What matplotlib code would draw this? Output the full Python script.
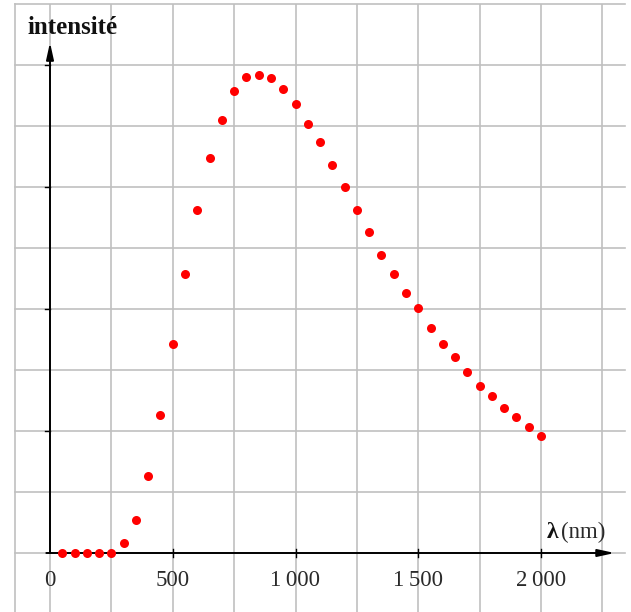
import matplotlib
matplotlib.use("Agg")
import matplotlib.pyplot as plt

# ---- data ----
wavelength_nm = [50, 100, 150, 200, 250, 300, 350, 400, 450, 500,
                 550, 600, 650, 700, 750, 800, 850, 900, 950, 1000,
                 1050, 1100, 1150, 1200, 1250, 1300, 1350, 1400, 1450, 1500,
                 1550, 1600, 1650, 1700, 1750, 1800, 1850, 1900, 1950, 2000]
intensity = [0, 0, 0, 0, 0, 0.17, 0.545, 1.27, 2.26, 3.42,
             4.57, 5.62, 6.47, 7.10, 7.57, 7.80, 7.84, 7.79, 7.61, 7.36,
             7.04, 6.73, 6.36, 6.0, 5.63, 5.27, 4.89, 4.58, 4.27, 4.01,
             3.69, 3.43, 3.22, 2.97, 2.74, 2.58, 2.38, 2.23, 2.06, 1.91]
x_tick_values = [0, 500, 1000, 1500, 2000]
x_tick_labels = ["0", "500", "1\u2009000", "1\u2009500", "2\u2009000"]
y_tick_values = [2, 4, 6, 8]

W, H = 631, 612
fig = plt.figure(figsize=(W / 100, H / 100), dpi=100)
left_px, right_px, top_px, bottom_px = 15, 625, 4, 612
ax = fig.add_axes([left_px / W, 0, (right_px - left_px) / W, (bottom_px - top_px) / H])
x0_px, px_per_nm = 50, 0.2455
y0_px, px_per_unit = 553, 61.0
xlim = ((left_px - x0_px) / px_per_nm, (right_px - x0_px) / px_per_nm)
ylim = ((y0_px - bottom_px) / px_per_unit, (y0_px - top_px) / px_per_unit)
ax.set_xlim(*xlim)
ax.set_ylim(*ylim)
ax.axis("off")

grid_color = "#c0c0c0"
for gx in range(0, 2300, 250):
    ax.axvline(gx, color=grid_color, lw=1.2, zorder=1)
ax.axvline(xlim[0] + 2, color=grid_color, lw=1.2, zorder=1, clip_on=False)
for gy in range(0, 10):
    ax.axhline(gy, color=grid_color, lw=1.2, zorder=1, clip_on=False)

# axes with arrows
ax.annotate("", xy=(2300, 0), xytext=(-15, 0),
            arrowprops=dict(arrowstyle="-|>,head_length=1.0,head_width=0.22",
                            color="black", lw=1.4, shrinkA=0, shrinkB=0), zorder=3)
ax.annotate("", xy=(0, 8.37), xytext=(0, 0),
            arrowprops=dict(arrowstyle="-|>,head_length=1.0,head_width=0.22",
                            color="black", lw=1.4, shrinkA=0, shrinkB=0), zorder=3)

# ticks
tick_dx = 5 / px_per_nm
for yv in y_tick_values:
    ax.plot([-tick_dx, 0], [yv, yv], color="black", lw=1.0, zorder=3)
tick_dy = 4 / px_per_unit
for xv in x_tick_values[1:]:
    ax.plot([xv, xv], [-tick_dy, tick_dy], color="black", lw=1.0, zorder=3)

serif = ["Liberation Serif", "DejaVu Serif"]
for xv, lab in zip(x_tick_values, x_tick_labels):
    ax.text(xv, -27 / px_per_unit, lab, ha="center", va="center",
            fontsize=16.5, family=serif, color="#2a2a2a", zorder=4)

ax.text((28 - x0_px) / px_per_nm, (y0_px - 27) / px_per_unit, "intensité",
        ha="left", va="center", fontsize=18, fontweight="bold", family=serif,
        color="#111111", zorder=4, clip_on=False)
ax.text((547 - x0_px) / px_per_nm, (y0_px - 532) / px_per_unit, "λ",
        ha="left", va="center", fontsize=17, fontweight="bold", family=serif,
        color="#111111", zorder=4)
ax.text((561 - x0_px) / px_per_nm, (y0_px - 532) / px_per_unit, "(nm)",
        ha="left", va="center", fontsize=16.5, family=serif,
        color="#2a2a2a", zorder=4)

ax.plot(wavelength_nm, intensity, "o", color="#ff0000", markersize=6.5,
        markeredgewidth=0, zorder=5, clip_on=False)

fig.savefig("out.png", dpi=100)
